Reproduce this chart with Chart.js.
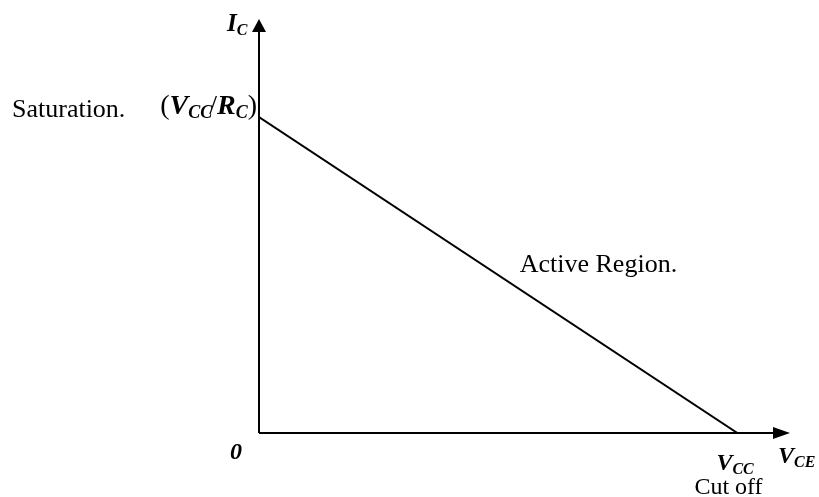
<!DOCTYPE html>
<html>
<head>
<meta charset="utf-8">
<script src="https://cdn.jsdelivr.net/npm/chart.js@4"></script>
<style>
  html, body { margin: 0; padding: 0; background: #fff; }
  #wrap { width: 819px; height: 497px; }
</style>
</head>
<body>
<div id="wrap"><canvas id="chart" width="819" height="497"></canvas></div>
<script>
// Load line data (V_CE on x, I_C on y), Vcc taken as 10 units
const vce = [0, 10];
const ic = [10, 0];
const vcc = 10;
const icSat = 10;
const xMax = 11.1;
const yMax = 13.1;

const serif = '"Liberation Serif", "DejaVu Serif", serif';

// Draw a symbol with a subscript, returns the width used
function drawSub(ctx, x, y, main, sub, size, subSize) {
  ctx.font = 'italic bold ' + size + 'px ' + serif;
  ctx.fillText(main, x, y);
  let w = ctx.measureText(main).width;
  ctx.font = 'italic bold ' + subSize + 'px ' + serif;
  ctx.fillText(sub, x + w, y + 4);
  w += ctx.measureText(sub).width;
  return w;
}

function subWidth(ctx, main, sub, size, subSize) {
  ctx.font = 'italic bold ' + size + 'px ' + serif;
  let w = ctx.measureText(main).width;
  ctx.font = 'italic bold ' + subSize + 'px ' + serif;
  return w + ctx.measureText(sub).width;
}

// Axes with arrows and the text labels
const axesPlugin = {
  id: 'axesPlugin',
  afterDraw(c) {
    const ctx = c.ctx;
    const xs = c.scales.x;
    const ys = c.scales.y;
    const x0 = xs.getPixelForValue(0);
    const y0 = ys.getPixelForValue(0);
    const xEnd = xs.getPixelForValue(xMax);
    const yEnd = ys.getPixelForValue(yMax);

    ctx.save();
    ctx.strokeStyle = '#000';
    ctx.fillStyle = '#000';
    ctx.lineWidth = 2;

    // axes
    ctx.beginPath();
    ctx.moveTo(x0, y0);
    ctx.lineTo(x0, yEnd + 10);
    ctx.moveTo(x0, y0);
    ctx.lineTo(xEnd - 14, y0);
    ctx.stroke();

    // arrow heads
    ctx.beginPath();
    ctx.moveTo(x0, yEnd);
    ctx.lineTo(x0 - 7, yEnd + 13);
    ctx.lineTo(x0 + 7, yEnd + 13);
    ctx.closePath();
    ctx.fill();
    ctx.beginPath();
    ctx.moveTo(xEnd, y0);
    ctx.lineTo(xEnd - 17, y0 - 6);
    ctx.lineTo(xEnd - 17, y0 + 6);
    ctx.closePath();
    ctx.fill();

    ctx.textBaseline = 'alphabetic';
    ctx.textAlign = 'left';

    // I_C
    drawSub(ctx, x0 - 32, yEnd + 12, 'I', 'C', 25, 16);

    // 0 at origin
    ctx.font = 'italic bold 24px ' + serif;
    ctx.fillText('0', x0 - 29, y0 + 26);

    // (Vcc/Rc) at saturation
    const ySat = ys.getPixelForValue(icSat);
    ctx.font = '28px ' + serif;
    const pw = ctx.measureText('(').width;
    const sw = ctx.measureText('/').width;
    const total = pw * 2 + sw - 3 + subWidth(ctx, 'V', 'CC', 28, 18) + subWidth(ctx, 'R', 'C', 28, 18);
    let tx = x0 - 2 - total;
    const by = ySat - 3;
    ctx.font = '28px ' + serif;
    ctx.fillText('(', tx, by);
    tx += pw;
    tx += drawSub(ctx, tx, by, 'V', 'CC', 28, 18);
    ctx.font = '28px ' + serif;
    ctx.fillText('/', tx - 3, by);
    tx += sw - 3;
    tx += drawSub(ctx, tx, by, 'R', 'C', 28, 18);
    ctx.font = '28px ' + serif;
    ctx.fillText(')', tx, by);

    ctx.font = '26px ' + serif;
    ctx.fillText('Saturation.', 12, ySat);

    // Active Region label
    ctx.font = '26px ' + serif;
    ctx.fillText('Active Region.', xs.getPixelForValue(5.45), ys.getPixelForValue(5.1));

    // Vcc and cut off
    const xCut = xs.getPixelForValue(vcc);
    drawSub(ctx, xCut - 21, y0 + 37, 'V', 'CC', 24, 16);
    ctx.font = '24px ' + serif;
    ctx.fillText('Cut off', xCut - 43, y0 + 61);

    // V_CE
    drawSub(ctx, xEnd - 12, y0 + 30, 'V', 'CE', 24, 16);

    ctx.restore();
  }
};

const ctx = document.getElementById('chart').getContext('2d');
const chart = new Chart(ctx, {
  type: 'scatter',
  data: {
    datasets: [{
      label: 'Load line',
      data: vce.map((v, i) => ({ x: v, y: ic[i] })),
      showLine: true,
      borderColor: '#000',
      borderWidth: 2,
      pointRadius: 0,
      fill: false,
      tension: 0
    }]
  },
  options: {
    responsive: false,
    animation: false,
    layout: { padding: { left: 259, right: 29, top: 19, bottom: 64 } },
    plugins: {
      legend: { display: false },
      tooltip: { enabled: false }
    },
    scales: {
      x: { type: 'linear', min: 0, max: xMax, display: false },
      y: { type: 'linear', min: 0, max: yMax, display: false }
    }
  },
  plugins: [axesPlugin]
});
</script>
</body>
</html>
